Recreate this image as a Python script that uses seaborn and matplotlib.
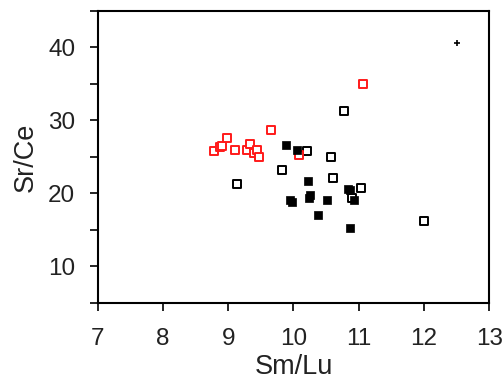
import matplotlib
matplotlib.use("Agg")
import matplotlib.pyplot as plt
import seaborn as sns
import pandas as pd

# Red open squares
red_x = [8.79, 8.87, 8.90, 8.99, 9.11, 9.29, 9.34, 9.40, 9.44, 9.48, 9.66, 10.08, 11.07]
red_y = [25.8, 26.4, 26.5, 27.6, 26.0, 26.0, 26.8, 25.5, 26.0, 25.0, 28.7, 25.3, 35.0]
# Black open squares
open_x = [9.14, 9.83, 10.21, 10.58, 10.78, 10.61, 11.03, 10.89, 12.00]
open_y = [21.3, 23.2, 25.8, 25.0, 31.3, 22.1, 20.8, 19.3, 16.2]
# Black filled squares
fill_x = [9.89, 10.06, 9.94, 9.98, 10.22, 10.24, 10.25, 10.37, 10.52, 10.84, 10.87, 10.93, 10.87]
fill_y = [26.6, 26.0, 19.1, 18.8, 21.7, 19.4, 19.8, 17.0, 19.1, 20.6, 20.5, 19.1, 15.2]
# error cross
err_x = [12.5]
err_y = [40.6]

x_ticks = [7, 8, 9, 10, 11, 12, 13]
y_ticks = [5, 10, 15, 20, 25, 30, 35, 40, 45]
y_labels = ["", "10", "", "20", "", "30", "", "40", ""]

sns.set_style("white")
plt.rcParams['font.family'] = ['Liberation Sans', 'DejaVu Sans']

fig = plt.figure(figsize=(5.04, 3.81), dpi=100)
ax = fig.add_axes([0.1935, 0.2047, 0.7775, 0.7673])

df_open = pd.DataFrame({"x": open_x, "y": open_y})
df_red = pd.DataFrame({"x": red_x, "y": red_y})
df_fill = pd.DataFrame({"x": fill_x, "y": fill_y})
df_err = pd.DataFrame({"x": err_x, "y": err_y})

sns.scatterplot(data=df_open, x="x", y="y", ax=ax, marker="s", s=26,
                facecolor="white", edgecolor="black", linewidth=1.4, zorder=3)
sns.scatterplot(data=df_red, x="x", y="y", ax=ax, marker="s", s=26,
                facecolor="white", edgecolor="#ff1a1a", linewidth=1.4, zorder=4)
sns.scatterplot(data=df_fill, x="x", y="y", ax=ax, marker="s", s=34,
                color="black", edgecolor="black", linewidth=0.5, zorder=5)
sns.scatterplot(data=df_err, x="x", y="y", ax=ax, marker="+", s=22,
                color="black", linewidth=1.2, zorder=6)

ax.set_xlim(7, 13)
ax.set_ylim(5, 45)
ax.set_xticks(x_ticks)
ax.set_xticklabels([str(t) for t in x_ticks])
ax.set_yticks(y_ticks)
ax.set_yticklabels(y_labels)

for s in ax.spines.values():
    s.set_visible(True)
    s.set_color("black")
    s.set_linewidth(1.5)

ax.tick_params(axis="both", direction="out", length=6, width=1.2, color="black",
               labelsize=17.5, labelcolor="#222222", left=True, bottom=True)
ax.tick_params(axis="y", pad=10)
ax.tick_params(axis="x", pad=12)
ax.set_xlabel("Sm/Lu", fontsize=19.5, color="#222222", labelpad=3)
ax.set_ylabel("Sr/Ce", fontsize=19.5, color="#222222", labelpad=7)

fig.savefig("out.png", dpi=100)
